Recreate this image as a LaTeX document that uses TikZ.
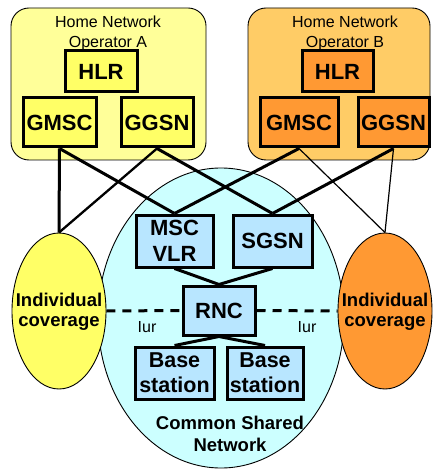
\documentclass[tikz,border=0pt]{standalone}
\usepackage{fontspec}
\setmainfont{Liberation Sans}
\usetikzlibrary{shapes.geometric}
\definecolor{yA}{HTML}{FFFF99}
\definecolor{yBox}{HTML}{FFFF66}
\definecolor{oB}{HTML}{FFCC66}
\definecolor{oBox}{HTML}{FF9933}
\definecolor{cyanS}{HTML}{CCFFFF}
\definecolor{blueBox}{HTML}{B8E6FF}
\tikzset{
  opbox/.style={draw=black, line width=0.9pt, rounded corners=18pt, inner sep=0pt},
  netbox/.style={draw=black, line width=3pt, inner sep=0pt, align=center,
    font=\fontsize{22}{26}\selectfont\bfseries},
  cov/.style={ellipse, draw=black, line width=0.9pt, inner sep=0pt},
  covtext/.style={align=center, font=\fontsize{18.5}{20}\selectfont\bfseries},
  title/.style={align=center, font=\fontsize{16}{20}\selectfont},
  thickline/.style={line width=3pt},
  midline/.style={line width=2.3pt},
  thinline/.style={line width=1.2pt},
  dashline/.style={line width=3pt, dash pattern=on 9pt off 7pt},
}
\begin{document}
\begin{tikzpicture}[x=1pt,y=-1pt]
\useasboundingbox (0,0) rectangle (432,470);
% operator backgrounds
\node[opbox, fill=yA, minimum width=195pt, minimum height=152pt] (opA) at (108.5,84) {};
\node[opbox, fill=oB, minimum width=182pt, minimum height=152pt] (opB) at (339,84) {};
\node[title] (tA) at (108,33) {Home Network\\Operator A};
\node[title] (tB) at (345,33) {Home Network\\Operator B};
% shared network
\node[cov, fill=cyanS, minimum width=246pt, minimum height=300pt] (shared) at (221,318) {};
\node[cov, fill=yBox, minimum width=94pt, minimum height=156pt] (covA) at (59,311) {};
\node[cov, fill=oBox, minimum width=94pt, minimum height=156pt] (covB) at (385,311) {};
% boxes
\node[netbox, fill=yBox, minimum width=72pt, minimum height=41pt] (hlrA) at (101,71.5) {HLR};
\node[netbox, fill=yBox, minimum width=73pt, minimum height=49pt] (gmscA) at (59.5,122.5) {GMSC};
\node[netbox, fill=yBox, minimum width=72pt, minimum height=49pt] (ggsnA) at (157,122.5) {GGSN};
\node[netbox, fill=oBox, minimum width=71pt, minimum height=41pt] (hlrB) at (337.5,71.5) {HLR};
\node[netbox, fill=oBox, minimum width=78pt, minimum height=49pt] (gmscB) at (299,122.5) {GMSC};
\node[netbox, fill=oBox, minimum width=71pt, minimum height=49pt] (ggsnB) at (393.5,122.5) {GGSN};
\node[netbox, fill=blueBox, minimum width=77pt, minimum height=52pt] (msc) at (174.5,241) {MSC\\VLR};
\node[netbox, fill=blueBox, minimum width=79pt, minimum height=52pt] (sgsn) at (272.5,241) {SGSN};
\node[netbox, fill=blueBox, minimum width=72pt, minimum height=49pt] (rnc) at (219,310.5) {RNC};
\node[netbox, fill=blueBox, minimum width=79pt, minimum height=52pt, font=\fontsize{21.5}{25}\selectfont\bfseries] (bs1) at (174.5,373) {Base\\station};
\node[netbox, fill=blueBox, minimum width=76pt, minimum height=52pt, font=\fontsize{21.5}{25}\selectfont\bfseries] (bs2) at (265,373) {Base\\station};
% texts
\node[covtext] (covAt) at (59,312) {Individual\\coverage};
\node[covtext] (covBt) at (385,312) {Individual\\coverage};
\node[covtext, font=\fontsize{18.5}{22}\selectfont\bfseries] (sharedt) at (230,434) {Common Shared\\Network};
\node[title] (iur1) at (147,327) {Iur};
\node[title] (iur2) at (307,327) {Iur};
% connectors
\draw[thickline] (gmscA.south) -- (covA.north);
\draw[thickline] (gmscA.south) -- (msc.north);
\draw[midline] (ggsnA.south) -- (covA.north);
\draw[thickline] (ggsnA.south) -- (sgsn.north);
\draw[thickline] (gmscB.south) -- (msc.north);
\draw[thinline] (gmscB.south) -- (covB.north);
\draw[thickline] (ggsnB.south) -- (sgsn.north);
\draw[thinline] (ggsnB.south) -- (covB.north);
\draw[thickline] (msc.south) -- (rnc.north);
\draw[thickline] (sgsn.south) -- (rnc.north);
\draw[thickline] (rnc.south) -- (bs1.north);
\draw[thickline] (rnc.south) -- (bs2.north);
\draw[dashline] (covA.east) -- (rnc.west);
\draw[dashline] (rnc.east) -- (covB.west);
\end{tikzpicture}
\end{document}
